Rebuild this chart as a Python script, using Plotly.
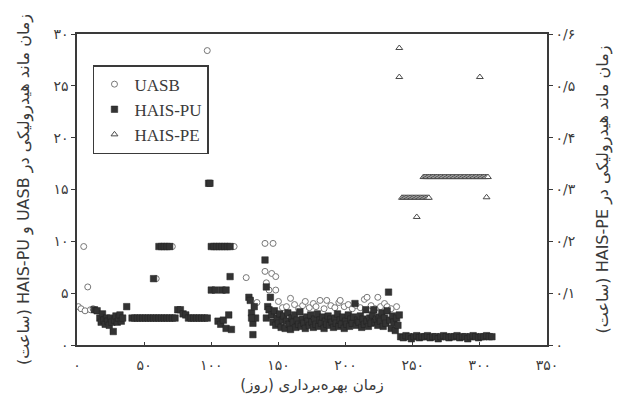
import plotly.graph_objects as go

# ---------------- data ----------------
uasb_day = [1, 3, 5, 6, 8, 10, 12, 59, 70, 71, 97, 116, 117, 126, 129, 134,
            140, 146, 140, 145, 148, 141, 143, 148,
            150, 153, 156, 159, 162, 165, 168, 170, 173, 176, 178, 181, 184, 186,
            189, 192, 195, 196, 199, 202, 205, 208, 211, 214, 216, 219, 222, 224,
            226, 229, 231, 234, 238]
uasb_hrt = [3.7, 3.5, 9.5, 3.3, 5.6, 3.4, 3.5, 6.4, 9.5, 9.5, 28.4, 9.5, 9.5, 6.5, 4.4, 4.1,
            9.8, 9.8, 7.1, 6.9, 6.6, 6.0, 5.3, 5.3,
            4.2, 3.6, 3.7, 4.5, 3.9, 3.5, 3.8, 4.2, 3.6, 4.0, 3.7, 4.3, 3.5, 4.3,
            3.8, 3.6, 4.1, 4.3, 3.7, 3.9, 3.5, 3.8, 3.6, 4.4, 4.6, 3.8, 3.5, 4.6,
            3.7, 4.0, 3.7, 3.5, 3.7]

pu_day = [13, 15, 17, 18, 19, 20, 21, 22, 23, 24, 25, 26, 27, 28, 29, 30, 31, 32, 33, 34, 37,
          41, 43, 45, 47, 49, 51, 53, 55, 57, 59, 61, 63, 65, 67, 69, 71, 73,
          57, 61, 63, 65, 67, 69,
          75, 77, 79, 81, 83, 85, 87, 89, 91, 93, 95, 97,
          98, 99, 100, 102, 104, 106, 108, 110, 112, 114,
          100, 103, 108, 111, 114,
          105, 107, 109, 111, 113, 115,
          128, 129, 130, 131, 131, 132, 133, 130,
          140, 141, 142, 143, 141, 144,
          145, 146, 147, 148, 149, 150, 151, 152, 153, 154, 155, 156, 157, 158, 159,
          160, 161, 162, 163, 164, 165, 166, 167, 168, 169, 170, 171, 172, 173, 174,
          175, 176, 177, 178, 179, 180, 181, 182, 183, 184, 185, 186, 187, 188, 189,
          190, 191, 192, 193, 194, 195, 196, 197, 198, 199, 200, 201, 202, 203, 204,
          205, 206, 207, 208, 209, 210, 211, 212, 213, 214, 215, 216, 217, 218, 219,
          220, 221, 222, 223, 224, 225, 226, 227, 228, 229, 230, 231, 232, 233, 234,
          235, 236, 237, 238, 239, 240,
          241, 243, 245, 247, 249, 251, 253, 255, 257, 259, 261, 263, 265, 267, 269,
          271, 273, 275, 277, 279, 281, 283, 285, 287, 289, 291, 293, 295, 297, 299,
          301, 303, 305, 307, 309]
pu_hrt = [3.4, 3.3, 2.6, 2.2, 3.0, 2.4, 2.0, 2.6, 2.3, 1.9, 2.6, 2.2, 1.3, 2.4, 2.8, 2.2, 2.6, 2.9, 2.3, 2.6, 3.7,
          2.6, 2.6, 2.6, 2.6, 2.6, 2.6, 2.6, 2.6, 2.6, 2.6, 2.6, 2.6, 2.6, 2.6, 2.6, 2.6, 2.6,
          6.4, 9.5, 9.5, 9.5, 9.5, 9.5,
          3.4, 3.4, 3.0, 2.9, 2.6, 2.6, 2.6, 2.6, 2.6, 2.6, 2.6, 2.6,
          15.6, 15.6, 9.5, 9.5, 9.5, 9.5, 9.5, 9.5, 9.5, 9.5,
          5.3, 5.3, 5.3, 5.3, 6.6,
          2.3, 2.0, 2.4, 1.6, 2.9, 1.5,
          4.6, 4.3, 3.1, 2.1, 1.0, 3.7, 2.6, 2.6,
          8.2, 5.6, 3.7, 3.4, 2.6, 4.6,
          2.9, 2.2, 3.3, 1.9, 2.6, 2.1, 3.0, 1.7, 2.4, 2.8, 1.6, 2.3, 3.1, 2.0, 1.5,
          2.6, 2.2, 2.9, 1.7, 2.4, 2.0, 3.2, 1.8, 2.5, 2.1, 1.6, 2.7, 2.3, 1.9, 2.9,
          2.2, 1.7, 2.5, 2.0, 3.0, 1.8, 2.4, 2.1, 2.7, 1.6, 2.3, 2.0, 2.8, 1.9, 2.5,
          2.2, 1.7, 2.6, 2.1, 3.0, 1.8, 2.4, 2.0, 2.7, 1.6, 2.3, 2.0, 2.9, 1.8, 2.5,
          2.1, 2.7, 4.0, 1.9, 2.4, 2.2, 2.8, 1.7, 2.5, 2.0, 3.4, 2.3, 1.8, 2.6, 2.1,
          2.9, 3.4, 2.2, 2.5, 1.9, 2.7, 2.3, 3.1, 1.8, 2.6, 2.1, 3.3, 5.1, 2.4, 1.6,
          2.8, 2.2, 1.4, 2.6, 1.9, 2.9,
          0.8, 0.7, 0.9, 0.8, 0.6, 0.8, 0.9, 0.7, 0.8, 0.8, 0.9, 0.7, 0.8, 0.8, 0.6,
          0.8, 0.9, 0.8, 0.7, 0.8, 0.8, 0.9, 0.7, 0.8, 0.8, 0.6, 0.8, 0.9, 0.8, 0.7,
          0.8, 0.8, 0.9, 0.8, 0.8]

pe_day = [240, 240,
          242, 243, 244, 245, 246, 247, 248, 249, 250, 251, 252, 253, 254, 255, 256,
          257, 258, 259, 260, 261, 262,
          253,
          258, 259, 260, 261, 262, 263, 264, 265, 266, 267, 268, 269, 270, 271, 272,
          273, 274, 275, 276, 277, 278, 279, 280, 281, 282, 283, 284, 285, 286, 287,
          288, 289, 290, 291, 292, 293, 294, 295, 296, 297, 298, 299, 300, 301, 302,
          303, 304, 305, 306,
          300, 305]
pe_hrt = [0.573, 0.517,
          0.284, 0.284, 0.284, 0.284, 0.284, 0.284, 0.284, 0.284, 0.284, 0.284, 0.284,
          0.284, 0.284, 0.284, 0.284, 0.284, 0.284, 0.284, 0.284, 0.284, 0.284,
          0.247,
          0.324, 0.324, 0.324, 0.324, 0.324, 0.324, 0.324, 0.324, 0.324, 0.324, 0.324,
          0.324, 0.324, 0.324, 0.324, 0.324, 0.324, 0.324, 0.324, 0.324, 0.324, 0.324,
          0.324, 0.324, 0.324, 0.324, 0.324, 0.324, 0.324, 0.324, 0.324, 0.324, 0.324,
          0.324, 0.324, 0.324, 0.324, 0.324, 0.324, 0.324, 0.324, 0.324, 0.324, 0.324,
          0.324, 0.324, 0.324, 0.324, 0.324,
          0.517, 0.285]

x_ticks = [0, 50, 100, 150, 200, 250, 300, 350]
x_tick_text = ["۰", "۵۰", "۱۰۰", "۱۵۰", "۲۰۰", "۲۵۰", "۳۰۰", "۳۵۰"]
y_ticks = [0, 5, 10, 15, 20, 25, 30]
y_tick_text = ["۰", "۵", "۱۰", "۱۵", "۲۰", "۲۵", "۳۰"]
y2_ticks = [0, 0.1, 0.2, 0.3, 0.4, 0.5, 0.6]
y2_tick_text = ["۰", "۰/۱", "۰/۲", "۰/۳", "۰/۴", "۰/۵", "۰/۶"]

x_title = "زمان بهره‌برداری (روز)"
y_title = "زمان ماند هیدرولیکی در UASB و HAIS-PU (ساعت)"
y2_title = "زمان ماند هیدرولیکی در HAIS-PE (ساعت)"


def rtl(s):
    # embed the text in a right-to-left run so mixed Persian/Latin text orders correctly
    return "\u202b" + s + "\u202c"


# ---------------- figure ----------------
ink = "#3a3a3a"
fig = go.Figure()
fig.add_trace(go.Scatter(
    x=uasb_day, y=uasb_hrt, mode="markers", name="UASB",
    marker=dict(symbol="circle", size=6, color="white",
                line=dict(color="#777777", width=1))))
fig.add_trace(go.Scatter(
    x=pu_day, y=pu_hrt, mode="markers", name="HAIS-PU",
    marker=dict(symbol="square", size=6.5, color="#333333",
                line=dict(color="#222222", width=0.5))))
fig.add_trace(go.Scatter(
    x=pe_day, y=pe_hrt, mode="markers", name="HAIS-PE", yaxis="y2",
    marker=dict(symbol="triangle-up", size=6, color="white",
                line=dict(color="#4a4a4a", width=1))))

tick_font = dict(family="DejaVu Sans", size=14, color=ink)
title_font = dict(family="DejaVu Sans", size=16, color=ink)
fig.update_layout(
    width=621, height=409,
    margin=dict(l=69, r=82, t=26, b=72),
    paper_bgcolor="white", plot_bgcolor="white",
    showlegend=True,
    legend=dict(x=0.034, y=0.90, xanchor="left", yanchor="top",
                bgcolor="white", bordercolor=ink, borderwidth=1.5,
                font=dict(family="Liberation Serif", size=17, color=ink),
                tracegroupgap=0, itemwidth=30),
    xaxis=dict(range=[0, 350], tickvals=x_ticks, ticktext=x_tick_text,
               showline=True, linecolor=ink, linewidth=1.5, mirror=True,
               ticks="inside", ticklen=3, tickcolor=ink,
               showgrid=False, zeroline=False, tickfont=tick_font,
               ticklabelstandoff=6, automargin=False,
               title=dict(text=rtl(x_title), font=dict(family="DejaVu Sans", size=15, color=ink),
                          standoff=8)),
    yaxis=dict(range=[0, 30], tickvals=y_ticks, ticktext=y_tick_text,
               showline=True, linecolor=ink, linewidth=1.5,
               ticks="outside", ticklen=4, tickcolor=ink,
               showgrid=False, zeroline=False, tickfont=tick_font,
               automargin=False,
               title=dict(text=rtl(y_title), font=title_font, standoff=20)),
    yaxis2=dict(range=[0, 0.6], tickvals=y2_ticks, ticktext=y2_tick_text,
                overlaying="y", side="right",
                showline=True, linecolor=ink, linewidth=1.5,
                ticks="outside", ticklen=4, tickcolor=ink,
                showgrid=False, zeroline=False, tickfont=tick_font,
                automargin=False,
                title=dict(text=rtl(y2_title), font=title_font, standoff=22)),
)

fig.write_html("out.html")
